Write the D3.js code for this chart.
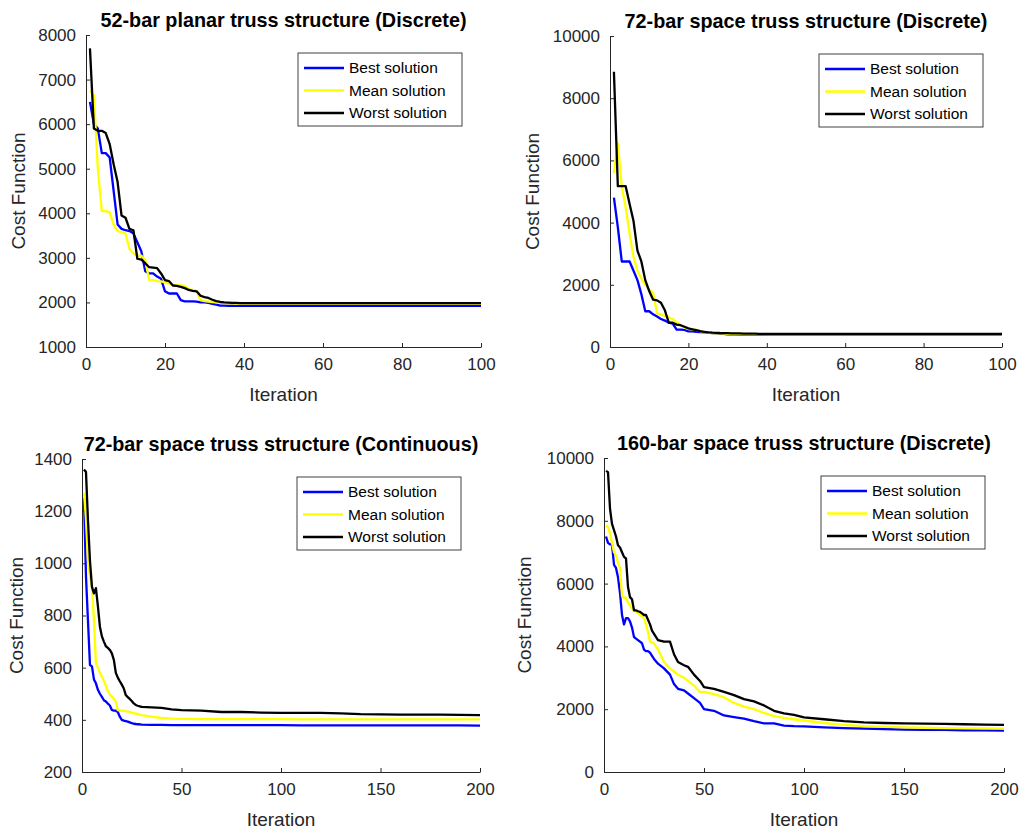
<!DOCTYPE html>
<html>
<head>
<meta charset="utf-8">
<script src="https://cdn.jsdelivr.net/npm/d3@7"></script>
<style>
body { margin: 0; background: #fff; }
text { font-family: "Liberation Sans", Arial, sans-serif; }
</style>
</head>
<body>
<div id="chart"></div>
<script>

// ---- data ----
var seriesNames = ["Best solution", "Mean solution", "Worst solution"];

var p1Iter = [1,2,3,4,5,6,7,8,9,10,11,12,13,14,15,16,17,18,19,20,21,22,23,24,25,26,27,28,29,30,31,32,33,34,35,36,37,38,39,40,50,60,70,80,90,100];
var p1Best = [6500,6000,5900,5350,5350,5250,4500,3750,3650,3620,3600,3550,3350,3150,2700,2650,2650,2580,2530,2250,2200,2200,2200,2050,2025,2025,2025,2020,2000,2000,1990,1970,1950,1930,1930,1925,1925,1925,1925,1925,1925,1925,1925,1925,1925,1925];
var p1Mean = [6750,6650,5000,4050,4050,4020,3750,3600,3580,3550,3200,3100,3050,3050,2950,2500,2500,2480,2470,2450,2420,2400,2390,2380,2370,2300,2280,2260,2050,2030,2020,2010,2000,1990,1985,1980,1980,1975,1975,1975,1975,1975,1975,1975,1975,1975];
var p1Worst = [7700,5900,5850,5850,5800,5550,5100,4700,3950,3900,3650,3620,2980,2960,2880,2790,2780,2770,2650,2500,2480,2380,2370,2350,2320,2280,2260,2250,2150,2120,2100,2060,2030,2010,2000,1995,1990,1990,1985,1985,1985,1985,1985,1985,1985,1985];

var p2Iter = [1,2,3,4,5,6,7,8,9,10,11,12,13,14,15,16,17,18,19,20,21,22,23,24,25,26,27,28,29,30,31,32,33,34,35,36,37,38,39,40,50,60,70,80,90,100];
var p2Best = [4800,3850,2750,2750,2750,2450,2150,1700,1150,1150,1050,980,900,850,780,750,560,560,550,500,500,490,480,470,460,450,440,430,420,410,410,405,400,400,400,395,395,395,395,390,390,390,390,390,390,390];
var p2Mean = [5600,6550,5150,4500,3650,2900,2450,2200,2000,1850,1750,1080,1050,1000,950,900,800,700,620,580,560,550,510,480,460,450,440,435,430,425,420,420,418,418,415,415,415,412,412,410,410,410,410,410,410,410];
var p2Worst = [8850,5170,5170,5170,4600,4050,3100,2750,2150,1800,1520,1500,1420,1180,780,780,720,700,650,600,570,540,510,490,470,460,455,450,448,445,440,440,435,432,430,428,428,425,425,425,425,425,425,422,420,420];

var p3Iter = [1,2,3,4,5,6,7,8,9,10,11,12,13,14,15,16,17,18,19,20,21,22,23,24,25,26,27,28,29,30,35,40,45,50,60,70,80,90,100,110,120,130,140,150,160,170,180,190,200];
var p3Best = [1250,950,780,610,605,555,540,515,500,488,475,470,462,455,438,435,435,430,412,400,397,395,393,390,387,385,384,383,383,382,381,381,380,380,380,380,380,380,380,379,379,379,379,379,379,379,379,379,378];
var p3Mean = [1270,1170,1010,950,910,785,615,600,580,565,550,530,510,497,490,480,470,437,435,435,435,433,432,430,428,425,425,422,420,418,412,407,405,404,403,403,403,403,403,402,402,402,402,402,402,402,402,402,402];
var p3Worst = [1360,1350,1165,1010,910,885,905,835,757,720,700,682,676,668,655,630,580,562,548,535,520,495,487,480,472,463,457,454,452,450,448,446,440,437,435,430,430,428,427,427,427,425,422,421,420,420,420,419,418];

var p4Iter = [1,2,3,4,5,6,7,8,9,10,11,12,13,14,15,16,17,18,19,20,21,22,23,24,25,27,30,33,35,37,40,42,45,48,50,55,60,65,70,75,80,85,90,95,100,110,120,130,140,150,160,170,180,190,200];
var p4Best = [7500,7300,7250,7250,6600,6500,6200,5700,5000,4700,4900,4900,4800,4600,4300,4250,4200,4150,4100,3900,3850,3850,3800,3700,3600,3450,3300,3100,2800,2650,2600,2500,2350,2200,2000,1950,1800,1750,1700,1620,1550,1550,1480,1460,1450,1420,1400,1380,1370,1350,1340,1340,1330,1330,1320];
var p4Mean = [7850,7800,7600,7300,7000,6900,6650,6500,5600,5550,5550,5400,5300,5200,5150,5100,5050,5000,4950,4900,4700,4450,4150,4120,4100,3900,3500,3300,3200,3100,3000,2900,2750,2550,2550,2480,2380,2200,2080,2000,1880,1780,1720,1680,1640,1560,1500,1460,1440,1420,1410,1400,1390,1385,1380];
var p4Worst = [9590,9550,8390,7900,7700,7500,7220,7150,7000,6850,6800,5890,5570,5500,5150,5150,5120,5100,5050,5000,5000,4850,4700,4500,4400,4200,4150,4150,3750,3500,3400,3350,3100,2900,2700,2650,2550,2450,2320,2250,2120,1950,1870,1820,1740,1680,1620,1580,1560,1550,1540,1530,1520,1510,1500];

var titles = [
    "52-bar planar truss structure (Discrete)",
    "72-bar space truss structure (Discrete)",
    "72-bar space truss structure (Continuous)",
    "160-bar space truss structure (Discrete)"
];

var p1XTicks = [0,20,40,60,80,100];
var p1YTicks = [1000,2000,3000,4000,5000,6000,7000,8000];
var p2XTicks = [0,20,40,60,80,100];
var p2YTicks = [0,2000,4000,6000,8000,10000];
var p3XTicks = [0,50,100,150,200];
var p3YTicks = [200,400,600,800,1000,1200,1400];
var p4XTicks = [0,50,100,150,200];
var p4YTicks = [0,2000,4000,6000,8000,10000];

var colors = ["#0000ff", "#ffff00", "#000000"];
var axisColor = "#262626";

var svg = d3.select("#chart").append("svg")
    .attr("width", 1019)
    .attr("height", 831);

svg.append("rect").attr("width", 1019).attr("height", 831).attr("fill", "#fff");

drawPanel({ x0: 86, x1: 481, y0: 35, y1: 347, title: titles[0], iter: p1Iter,
    series: [p1Best, p1Mean, p1Worst], xTicks: p1XTicks, yTicks: p1YTicks, ylabX: 18 });
drawPanel({ x0: 610, x1: 1002, y0: 36, y1: 347, title: titles[1], iter: p2Iter,
    series: [p2Best, p2Mean, p2Worst], xTicks: p2XTicks, yTicks: p2YTicks, ylabX: 532 });
drawPanel({ x0: 82, x1: 480, y0: 459, y1: 772, title: titles[2], iter: p3Iter,
    series: [p3Best, p3Mean, p3Worst], xTicks: p3XTicks, yTicks: p3YTicks, ylabX: 16 });
drawPanel({ x0: 604, x1: 1004, y0: 458, y1: 772, title: titles[3], iter: p4Iter,
    series: [p4Best, p4Mean, p4Worst], xTicks: p4XTicks, yTicks: p4YTicks, ylabX: 524 });

function drawPanel(cfg) {
    var x = d3.scaleLinear()
        .domain([cfg.xTicks[0], cfg.xTicks[cfg.xTicks.length - 1]])
        .range([cfg.x0, cfg.x1]);
    var y = d3.scaleLinear()
        .domain([cfg.yTicks[0], cfg.yTicks[cfg.yTicks.length - 1]])
        .range([cfg.y1, cfg.y0]);

    var g = svg.append("g");

    // axes, ticks pointing inward like matlab
    var xAxis = g.append("g")
        .attr("transform", "translate(0," + cfg.y1 + ")")
        .call(d3.axisBottom(x).tickValues(cfg.xTicks).tickFormat(d3.format("d"))
            .tickSizeInner(-4).tickSizeOuter(0).tickPadding(11));
    var yAxis = g.append("g")
        .attr("transform", "translate(" + cfg.x0 + ",0)")
        .call(d3.axisLeft(y).tickValues(cfg.yTicks).tickFormat(d3.format("d"))
            .tickSizeInner(-4).tickSizeOuter(0).tickPadding(10));

    [xAxis, yAxis].forEach(function (a) {
        a.select(".domain").attr("stroke", axisColor).attr("stroke-width", 1);
        a.selectAll(".tick line").attr("stroke", axisColor);
        a.selectAll(".tick text")
            .attr("fill", axisColor)
            .style("font-size", "17px")
            .style("font-family", "'Liberation Sans', Arial, sans-serif");
    });

    // lines
    var line = d3.line()
        .x(function (d) { return x(d[0]); })
        .y(function (d) { return y(d[1]); });

    cfg.series.forEach(function (vals, i) {
        var pts = cfg.iter.map(function (it, k) { return [it, vals[k]]; });
        g.append("path")
            .datum(pts)
            .attr("d", line)
            .attr("fill", "none")
            .attr("stroke", colors[i])
            .attr("stroke-width", 2.3)
            .attr("stroke-linejoin", "round");
    });

    // title
    g.append("text")
        .attr("x", (cfg.x0 + cfg.x1) / 2)
        .attr("y", cfg.y0 - 8)
        .attr("text-anchor", "middle")
        .attr("fill", "#000")
        .style("font-size", "19.8px")
        .style("font-weight", "bold")
        .text(cfg.title);

    // axis labels
    g.append("text")
        .attr("x", (cfg.x0 + cfg.x1) / 2)
        .attr("y", cfg.y1 + 54)
        .attr("text-anchor", "middle")
        .attr("fill", axisColor)
        .style("font-size", "19px")
        .text("Iteration");

    g.append("text")
        .attr("transform", "translate(" + cfg.ylabX + "," + ((cfg.y0 + cfg.y1) / 2) + ") rotate(-90)")
        .attr("text-anchor", "middle")
        .attr("dy", "0.35em")
        .attr("fill", axisColor)
        .style("font-size", "19px")
        .text("Cost Function");

    // legend
    var lw = 164, lh = 73;
    var lx = cfg.x1 - 19 - lw, ly = cfg.y0 + 18;
    var leg = g.append("g").attr("transform", "translate(" + lx + "," + ly + ")");
    leg.append("rect")
        .attr("width", lw)
        .attr("height", lh)
        .attr("fill", "#fff")
        .attr("stroke", "#404040")
        .attr("stroke-width", 1);
    seriesNames.forEach(function (name, i) {
        var ry = 15 + i * 22.5;
        leg.append("line")
            .attr("x1", 6).attr("x2", 46)
            .attr("y1", ry).attr("y2", ry)
            .attr("stroke", colors[i])
            .attr("stroke-width", 2.3);
        leg.append("text")
            .attr("x", 51)
            .attr("y", ry)
            .attr("dy", "0.35em")
            .attr("fill", "#000")
            .style("font-size", "15.5px")
            .text(name);
    });
}
</script>
</body>
</html>
